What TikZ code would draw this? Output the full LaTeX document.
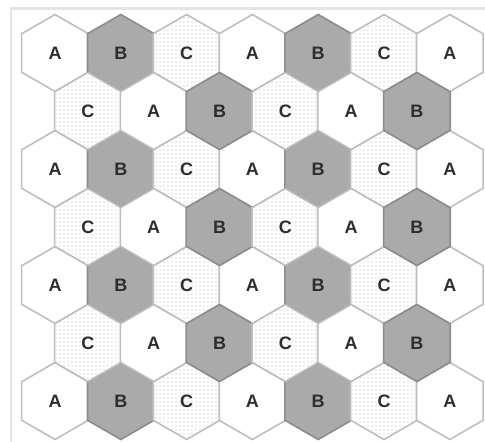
\documentclass[tikz,border=0pt]{standalone}
\usepackage{fontspec}
\setmainfont{Liberation Sans}
\usepackage{xcolor}
\usetikzlibrary{shapes.geometric,patterns}
\definecolor{CellEdge}{RGB}{190,190,190}
\definecolor{CellDark}{RGB}{170,170,170}
\definecolor{CellDarkEdge}{RGB}{140,140,140}
\definecolor{CellDots}{RGB}{185,185,185}
\definecolor{FrameGray}{RGB}{228,228,228}
\definecolor{LabelGray}{RGB}{45,45,45}

\begin{document}
\begin{tikzpicture}[
  x=0.75pt, y=-0.75pt,
  cell/.style={
    regular polygon,
    regular polygon sides=6,
    shape border rotate=30,
    minimum size=57.75pt,
    inner sep=0pt,
    outer sep=0pt,
    line width=1.2pt,
    text=LabelGray,
    font=\fontsize{13.5}{15}\selectfont\bfseries,
  },
  cellA/.style={cell, draw=CellEdge, fill=white},
  cellB/.style={cell, draw=CellDarkEdge, fill=CellDark},
  cellC/.style={cell, draw=CellEdge, fill=white,
    postaction={pattern=dots, pattern color=CellDots}},
]
  \useasboundingbox (0,0) rectangle (485,442);
  \draw[FrameGray, line width=2pt] (486,8.5) -- (11,8.5) -- (11,443);

  % rows with seven cells
  \foreach \r/\y in {1/53, 3/169, 5/285, 7/401}
    \foreach \lbl [count=\c] in {A,B,C,A,B,C,A}
      \node[cell\lbl] (h-\r-\c) at ({55+65.8*(\c-1)}, \y) {\lbl};

  % rows with six cells, shifted by half a cell
  \foreach \r/\y in {2/111, 4/227, 6/343}
    \foreach \lbl [count=\c] in {C,A,B,C,A,B}
      \node[cell\lbl] (h-\r-\c) at ({87.9+65.8*(\c-1)}, \y) {\lbl};
\end{tikzpicture}
\end{document}
